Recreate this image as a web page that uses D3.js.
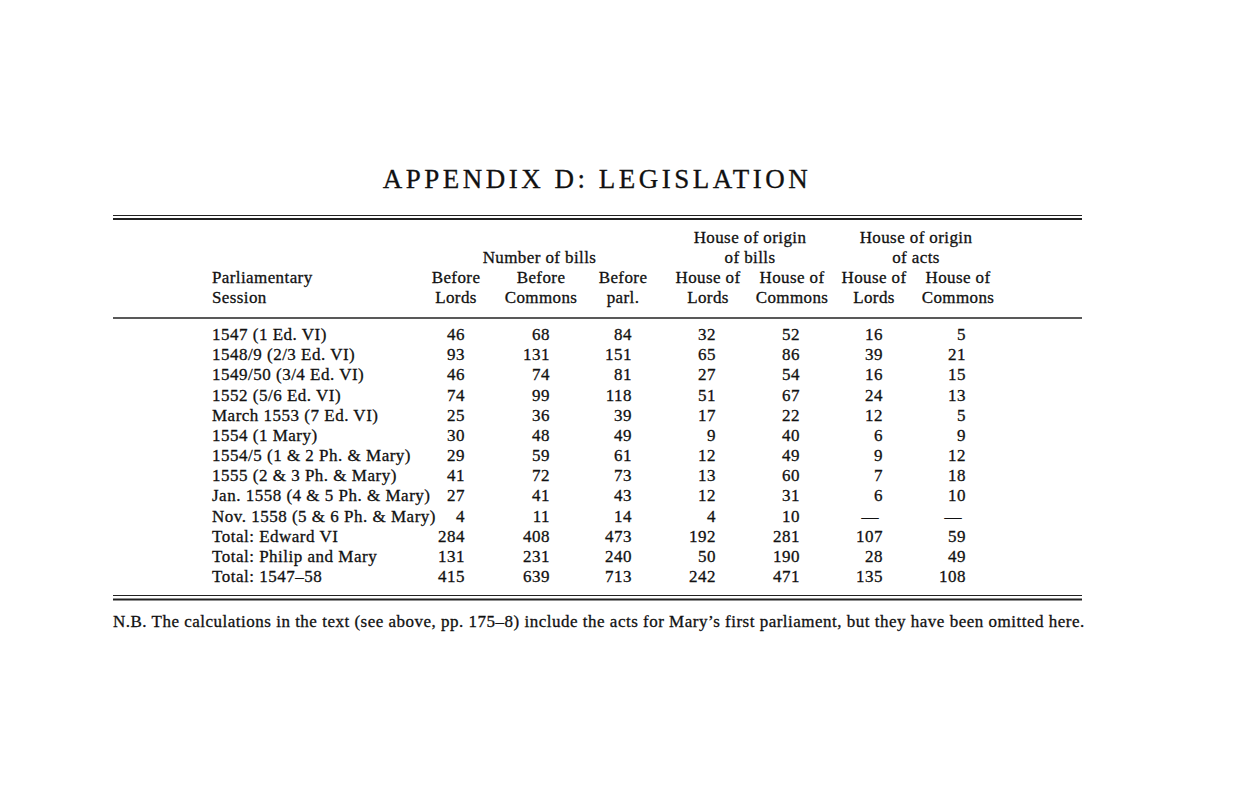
<!DOCTYPE html>
<html>
<head>
<meta charset="utf-8">
<script src="https://cdn.jsdelivr.net/npm/d3@7"></script>
<style>
  body { margin: 0; background: #fff; }
  text { font-family: "Liberation Serif", "DejaVu Serif", serif; fill: #111; stroke: #111; stroke-width: 0.3px; }
</style>
</head>
<body>
<script>
const width = 1237;
const height = 800;

const sessions = [
  '1547 (1 Ed. VI)',
  '1548/9 (2/3 Ed. VI)',
  '1549/50 (3/4 Ed. VI)',
  '1552 (5/6 Ed. VI)',
  'March 1553 (7 Ed. VI)',
  '1554 (1 Mary)',
  '1554/5 (1 & 2 Ph. & Mary)',
  '1555 (2 & 3 Ph. & Mary)',
  'Jan. 1558 (4 & 5 Ph. & Mary)',
  'Nov. 1558 (5 & 6 Ph. & Mary)',
  'Total: Edward VI',
  'Total: Philip and Mary',
  'Total: 1547–58'
];

const beforeLords    = [46, 93, 46, 74, 25, 30, 29, 41, 27, 4, 284, 131, 415];
const beforeCommons  = [68, 131, 74, 99, 36, 48, 59, 72, 41, 11, 408, 231, 639];
const beforeParl     = [84, 151, 81, 118, 39, 49, 61, 73, 43, 14, 473, 240, 713];
const billsLords     = [32, 65, 27, 51, 17, 9, 12, 13, 12, 4, 192, 50, 242];
const billsCommons   = [52, 86, 54, 67, 22, 40, 49, 60, 31, 10, 281, 190, 471];
const actsLords      = [16, 39, 16, 24, 12, 6, 9, 7, 6, null, 107, 28, 135];
const actsCommons    = [5, 21, 15, 13, 5, 9, 12, 18, 10, null, 59, 49, 108];

const columns = ['bl', 'bc', 'bp', 'hl', 'hc', 'al', 'ac'];
const colHeaders = [
  ['Before', 'Lords'], ['Before', 'Commons'], ['Before', 'parl.'],
  ['House of', 'Lords'], ['House of', 'Commons'], ['House of', 'Lords'], ['House of', 'Commons']
];
const groupHeaders = [
  {cols: ['bl', 'bp'], lines: ['Number of bills']},
  {cols: ['hl', 'hc'], lines: ['House of origin', 'of bills']},
  {cols: ['al', 'ac'], lines: ['House of origin', 'of acts']}
];
const series = [beforeLords, beforeCommons, beforeParl, billsLords, billsCommons, actsLords, actsCommons];

const title = 'APPENDIX D: LEGISLATION';
const note = 'N.B. The calculations in the text (see above, pp. 175–8) include the acts for Mary’s first parliament, but they have been omitted here.';

const left = 113, right = 1082, labelX = 212;

// column centres (header) and right edges (numbers)
const xc = d3.scaleOrdinal().domain(columns).range([456, 541, 623, 708, 792, 874, 958]);
const xr = d3.scaleOrdinal().domain(columns).range([465, 550, 632, 716, 800, 883, 966]);

const y = d3.scalePoint().domain(sessions).range([335, 577]);

const svg = d3.select('body').append('svg')
  .attr('width', width).attr('height', height);

svg.append('text')
  .attr('x', 597).attr('y', 188)
  .attr('text-anchor', 'middle')
  .style('font-size', '27px')
  .style('letter-spacing', '3.5px')
  .text(title);

const rule = (yy, w) => svg.append('line')
  .attr('x1', left).attr('x2', right).attr('y1', yy).attr('y2', yy)
  .attr('stroke', '#222').attr('stroke-width', w);

rule(215.5, 1);
rule(219, 2);
rule(318, 1.3);
rule(595.5, 1.2);
rule(599.5, 2);

const head = svg.append('g')
  .style('font-size', '17px').style('letter-spacing', '0.4px')
  .attr('text-anchor', 'middle');

groupHeaders.forEach(g => {
  const cx = (xc(g.cols[0]) + xc(g.cols[1])) / 2;
  const y0 = g.lines.length === 2 ? 243 : 263;
  g.lines.forEach((t, i) => head.append('text').attr('x', cx).attr('y', y0 + i * 20).text(t));
});

columns.forEach((c, i) => {
  colHeaders[i].forEach((t, j) =>
    head.append('text').attr('x', xc(c)).attr('y', 283 + j * 20).text(t));
});

head.append('text').attr('x', labelX).attr('y', 283).attr('text-anchor', 'start').text('Parliamentary');
head.append('text').attr('x', labelX).attr('y', 303).attr('text-anchor', 'start').text('Session');

const body = svg.append('g').style('font-size', '17px').style('letter-spacing', '0.5px');

body.selectAll('text.label').data(sessions).join('text')
  .attr('class', 'label')
  .attr('x', labelX)
  .attr('y', d => y(d) + 5)
  .text(d => d);

columns.forEach((c, i) => {
  body.selectAll('text.' + c).data(series[i]).join('text')
    .attr('class', c)
    .attr('x', d => d == null ? xr(c) - 4 : xr(c))
    .attr('y', (d, j) => y(sessions[j]) + 5)
    .attr('text-anchor', 'end')
    .text(d => d == null ? '—' : d);
});

svg.append('text')
  .attr('x', left).attr('y', 627)
  .style('font-size', '17px')
  .style('letter-spacing', '0.5px')
  .text(note);
</script>
</body>
</html>
